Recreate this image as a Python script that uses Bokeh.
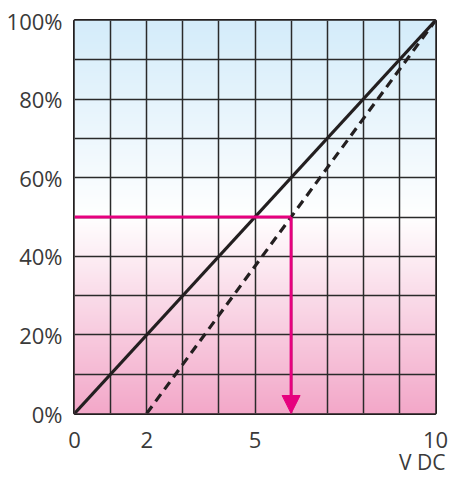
import numpy as np
from bokeh.plotting import figure
from bokeh.models import FixedTicker, Title, Arrow, NormalHead, Range1d
from bokeh.embed import file_html
from bokeh.resources import INLINE

# data
x_ticks = [0, 2, 5, 10]
x_tick_labels = ["0", "2", "5", "10"]
y_ticks = [0, 20, 40, 60, 80, 100]
y_tick_labels = ["0%", "20%", "40%", "60%", "80%", "100%"]
x_label = "V DC"
solid_x = [0, 10]
solid_y = [0, 100]
dashed_x = [2, 10]
dashed_y = [0, 100]
marker_level = 50
marker_v = 6

# style
INK = "#231f20"
MAGENTA = "#e6007e"
FONT = "Open Sans"

p = figure(width=450, height=477, output_backend="svg", toolbar_location=None,
           x_range=Range1d(0, 10), y_range=Range1d(0, 100),
           min_border_left=74, min_border_right=15, min_border_top=20, min_border_bottom=64)
p.background_fill_color = None
p.border_fill_color = "white"

# background gradient
n = 400
ys = (np.arange(n) + 0.5) / n * 100
top = np.array([212, 236, 250], float)
bot = np.array([243, 168, 201], float)
white = np.array([255, 255, 255], float)
rgb = np.zeros((n, 3))
for i, yv in enumerate(ys):
    if yv >= 50:
        t = (yv - 50) / 50
        rgb[i] = white * (1 - t) + top * t
    else:
        t = (50 - yv) / 50
        rgb[i] = white * (1 - t) + bot * t
img = np.zeros((n, 1), dtype=np.uint32)
view = img.view(dtype=np.uint8).reshape((n, 1, 4))
view[:, 0, 0] = rgb[:, 0].astype(np.uint8)
view[:, 0, 1] = rgb[:, 1].astype(np.uint8)
view[:, 0, 2] = rgb[:, 2].astype(np.uint8)
view[:, 0, 3] = 255
p.image_rgba(image=[img], x=0, y=0, dw=10, dh=100, level="image")

# grid
p.xgrid.ticker = FixedTicker(ticks=list(range(0, 11)))
p.ygrid.ticker = FixedTicker(ticks=list(range(0, 101, 10)))
for g in (p.xgrid, p.ygrid):
    g.grid_line_color = "#2a2a2a"
    g.grid_line_width = 1.5
    g.level = "underlay"

p.outline_line_color = INK
p.outline_line_width = 3
p.outline_line_alpha = 1

# axes
p.xaxis.ticker = FixedTicker(ticks=x_ticks)
p.xaxis.major_label_overrides = {t: l for t, l in zip(x_ticks, x_tick_labels)}
p.yaxis.ticker = FixedTicker(ticks=y_ticks)
p.yaxis.major_label_overrides = {t: l for t, l in zip(y_ticks, y_tick_labels)}
for ax in (p.xaxis, p.yaxis):
    ax.axis_line_color = None
    ax.major_tick_line_color = None
    ax.minor_tick_line_color = None
    ax.major_label_text_font = FONT
    ax.major_label_text_font_size = "22px"
    ax.major_label_text_color = "#3a3a3a"
p.xaxis.major_label_standoff = 12
p.yaxis.major_label_standoff = 6

# lines
p.line(solid_x, solid_y, line_color=INK, line_width=3.2)
p.line(dashed_x, dashed_y, line_color=INK, line_width=3.2, line_dash="9 6")
p.line([0, marker_v], [marker_level, marker_level], line_color=MAGENTA, line_width=3)
p.add_layout(Arrow(x_start=marker_v, y_start=marker_level, x_end=marker_v, y_end=0,
                   line_color=MAGENTA, line_width=3,
                   end=NormalHead(size=18, fill_color=MAGENTA, line_color=MAGENTA)))

p.add_layout(Title(text=x_label, align="right", offset=-10, standoff=-9,
                   text_font=FONT, text_font_size="21px", text_font_style="normal",
                   text_color="#3a3a3a"), "below")

open("out.html", "w").write(file_html(p, INLINE))
